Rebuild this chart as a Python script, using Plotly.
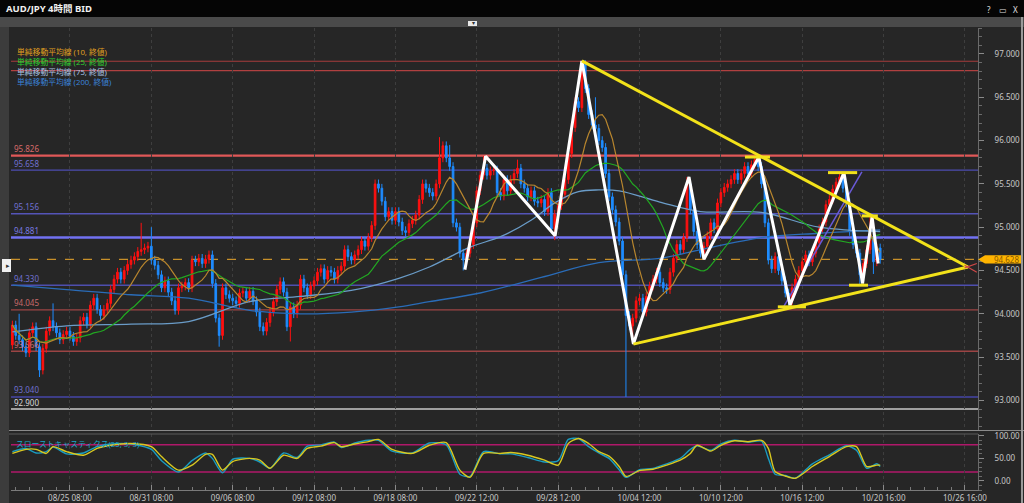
import plotly.graph_objects as go
import pandas as pd

# ---------------- data ----------------
first_idx = -17          # bar index of first candle (0 = 08/25 08:00, 4h bars)
first_open = 93.64
closes = [
    93.87, 93.75, 93.70, 93.62, 93.55, 93.78, 93.85, 93.62, 93.35, 93.60, 93.80, 93.92, 93.85, 93.78, 93.70, 93.76, 93.80,
    93.74, 93.68, 93.72, 93.92, 93.96, 93.88, 94.10, 94.18, 94.05, 93.98,
    94.05, 94.12, 94.28, 94.40, 94.48, 94.40, 94.50, 94.57, 94.62, 94.66,
    94.72, 94.74, 94.76, 94.78, 94.62, 94.56, 94.45, 94.30, 94.38, 94.25,
    94.15, 94.04, 94.30, 94.32, 94.36, 94.30, 94.62, 94.60, 94.64, 94.58,
    94.63, 94.68, 94.35, 93.95, 93.75, 94.30, 94.22, 94.18, 94.15, 94.12,
    94.24, 94.26, 94.18, 94.26, 94.15, 94.02, 93.85, 93.80, 93.90, 94.02,
    94.14, 94.28, 94.37, 94.25, 93.85, 94.08, 94.00, 94.10, 94.40, 94.30,
    94.22, 94.32, 94.38, 94.48, 94.52, 94.40, 94.50, 94.48, 94.40, 94.50,
    94.55, 94.74, 94.66, 94.62, 94.68, 94.74, 94.84, 94.78, 94.88, 95.02,
    95.50, 95.45, 95.30, 95.12, 95.18, 95.08, 95.18, 95.06, 94.96, 94.94,
    95.04, 95.08, 95.14, 95.32, 95.50, 95.45, 95.40, 95.36, 95.50, 95.80,
    95.94, 95.80, 95.70, 95.05, 95.00, 94.70, 94.62, 94.70, 94.80, 95.05,
    95.42, 95.60, 95.68, 95.60, 95.65, 95.66, 95.40, 95.36, 95.55, 95.42,
    95.55, 95.62, 95.68, 95.50, 95.45, 95.35, 95.42, 95.30, 95.28, 95.32,
    95.18, 95.40, 94.98, 95.15, 95.25, 95.38, 95.55, 95.85, 96.15, 96.45,
    96.38, 96.88, 96.60, 96.30, 96.18, 96.14, 96.00, 95.92, 95.62, 95.35,
    95.20, 95.06, 94.84, 94.45, 93.98, 93.86, 93.95, 94.15, 94.18, 94.02,
    94.20, 94.32, 94.40, 94.48, 94.36, 94.30, 94.28, 94.48, 94.64, 94.80,
    94.74, 94.88, 95.50, 95.20, 94.95, 94.80, 94.70, 94.78, 94.90, 95.05,
    94.98, 95.28, 95.40, 95.46, 95.50, 95.55, 95.62, 95.55, 95.62, 95.70,
    95.62, 95.72, 95.78, 95.70, 95.50, 95.05, 94.62, 94.52, 94.66, 94.50,
    94.38, 94.24, 94.15, 94.30, 94.40, 94.50, 94.60, 94.68, 94.60, 94.70,
    94.82, 94.98, 95.06, 95.26, 95.32, 95.44, 95.52, 95.58, 95.45, 95.28,
    94.95, 94.80, 94.70, 94.45, 94.58, 94.74, 94.88, 94.60, 94.76, 94.628,
]
wick = 0.05
high_marks = {-15: 94.00, -5: 94.12, 21: 95.05, 24: 95.00, 109: 96.04, 112: 95.95, 122: 95.82,
              132: 95.78, 151: 96.92, 155: 96.50, 182: 95.58, 202: 95.82, 227: 95.64, 236: 95.12}
low_marks = {-9: 93.27, 44: 93.62, 65: 93.68, 116: 94.50, 143: 94.85, 164: 93.04, 166: 93.65,
             187: 94.63, 212: 94.08, 233: 94.33, 237: 94.46}

ma75_idx = [-17, -1, 18, 35, 53, 68, 83, 97, 106, 118, 127, 136, 143, 150, 156, 162, 174, 186, 204, 221, 239]
ma75_val = [93.79, 93.86, 93.88, 93.91, 94.14, 94.20, 94.27, 94.41, 94.54, 94.77, 94.89, 95.08, 95.28,
            95.41, 95.43, 95.42, 95.29, 95.18, 95.17, 95.00, 94.95]
ma200_idx = [-17, -1, 18, 35, 53, 68, 83, 97, 106, 121, 139, 156, 174, 186, 204, 221, 239]
ma200_val = [94.33, 94.28, 94.22, 94.18, 94.04, 94.00, 94.02, 94.08, 94.14, 94.24, 94.42, 94.59,
             94.64, 94.74, 94.88, 94.93, 94.97]

st_idx = [-17, -13, -10, -7, -5, -1, 4, 8, 12, 18, 24, 27, 32, 36, 40, 42, 45, 48, 53, 56, 59, 63, 67, 70,
          74, 78, 80, 84, 88, 91, 95, 101, 106, 111, 115, 118, 122, 127, 130, 135, 140, 144, 147, 150,
          153, 156, 159, 162, 164, 168, 172, 176, 180, 183, 185, 189, 192, 196, 200, 204, 206, 208, 211,
          214, 219, 224, 229, 232, 235, 238, 239]
st_d = [61, 70, 70, 61, 76, 65, 57, 72, 79, 83, 76, 54, 24, 35, 59, 59, 24, 43, 50, 46, 28, 57, 50, 72,
        77, 85, 76, 82, 87, 92, 70, 61, 79, 85, 24, 8, 61, 61, 63, 57, 46, 35, 83, 94,
        83, 65, 55, 32, 10, 23, 26, 35, 46, 61, 79, 66, 79, 89, 87, 90, 72, 21, 11,
        6, 32, 54, 76, 76, 32, 35, 35]
st_k = [65, 72, 62, 65, 75, 60, 62, 76, 82, 82, 70, 45, 20, 45, 62, 50, 18, 48, 50, 42, 28, 62, 52, 77,
        80, 86, 74, 84, 90, 90, 66, 62, 84, 80, 15, 10, 65, 60, 60, 52, 42, 45, 92, 94,
        76, 62, 50, 25, 8, 25, 28, 38, 50, 70, 78, 68, 82, 90, 86, 88, 50, 15, 12,
        6, 38, 58, 78, 68, 28, 38, 32]

zig_idx = [116.5, 122.6, 143.1, 151.0, 166.2, 182.6, 187.0, 203.2, 212.4, 228.3, 233.8, 236.6, 238.4]
zig_px = [94.51, 95.82, 94.90, 96.92, 93.65, 95.58, 94.63, 95.81, 94.10, 95.63, 94.35, 95.12, 94.58]

tri_upper = [(151.0, 96.92), (264.9, 94.54)]
tri_lower = [(166.2, 93.65), (264.9, 94.54)]
yellow_marks = [(199.1, 206.5, 95.81), (223.6, 232.2, 95.63), (208.8, 217.1, 94.08),
                (229.8, 235.4, 94.33), (233.6, 238.3, 95.13)]
purple_line = [(210.5, 94.08), (233.6, 95.64)]

levels = [  # price, colour, width, label colour or None
    (96.916, "#a63c3c", 1.2, None), (96.807, "#b04040", 1.2, None),
    (95.826, "#e05858", 2.2, "#d86a6a"), (95.658, "#4c4cb0", 1.2, "#7070d0"),
    (95.156, "#5454b8", 1.5, "#7070d0"), (94.881, "#7272f2", 2.5, "#7a7ae0"),
    (94.330, "#4e4eae", 1.5, "#7070d0"), (94.045, "#9c4444", 1.2, "#c86a6a"),
    (93.566, "#9c4444", 1.5, "#c86a6a"), (93.040, "#4646a8", 1.5, "#7070d0"),
    (92.900, "#c8c8c8", 1.5, "#d8d8d8"),
]
current_price = 94.628
tick_idx = [0, 24, 48, 72, 96, 120, 144, 168, 192, 216, 240, 264]
tick_txt = ["08/25 08:00", "08/31 08:00", "09/06 08:00", "09/12 08:00", "09/18 08:00", "09/22 12:00",
            "09/28 12:00", "10/04 12:00", "10/10 12:00", "10/16 12:00", "10/20 16:00", "10/26 16:00"]

# ---------------- derived series ----------------
idx = list(range(first_idx, first_idx + len(closes)))
opens = [first_open] + closes[:-1]
highs = [max(high_marks.get(i, max(o, c) + wick), o, c) for i, o, c in zip(idx, opens, closes)]
lows = [min(low_marks.get(i, min(o, c) - wick), o, c) for i, o, c in zip(idx, opens, closes)]
s = pd.Series(closes)
sma10 = s.rolling(10, min_periods=1).mean()
sma25 = s.rolling(25, min_periods=1).mean()

# ---------------- layout geometry (pixels) ----------------
W, H = 1024, 503
L, R, T, B = 11, 978, 28, 490
def px(x):
    return (x - L) / (R - L)
def py(y):
    return (B - y) / (B - T)

FONT = "Noto Sans, Noto Sans CJK JP, sans-serif"
fig = go.Figure()

fig.add_trace(go.Candlestick(
    x=idx, open=opens, high=highs, low=lows, close=closes, xaxis="x2", yaxis="y",
    increasing=dict(line=dict(color="#ff1010", width=1), fillcolor="#ff1010"),
    decreasing=dict(line=dict(color="#1e8cff", width=1), fillcolor="#1e8cff"),
    whiskerwidth=0, hoverinfo="skip", showlegend=False))

ma_style = dict(mode="lines", xaxis="x2", yaxis="y", hoverinfo="skip", showlegend=False)
fig.add_trace(go.Scatter(x=ma200_idx, y=ma200_val, line=dict(color="#2a6cb8", width=1.3, shape="spline"), **ma_style))
fig.add_trace(go.Scatter(x=ma75_idx, y=ma75_val, line=dict(color="#6a9cc8", width=1.3, shape="spline"), **ma_style))
fig.add_trace(go.Scatter(x=idx, y=sma25, line=dict(color="#22a822", width=1.2), **ma_style))
fig.add_trace(go.Scatter(x=idx, y=sma10, line=dict(color="#b8862e", width=1.2), **ma_style))

# drawings
fig.add_trace(go.Scatter(x=[p[0] for p in purple_line], y=[p[1] for p in purple_line],
                         line=dict(color="#6a5ad8", width=1.5), **ma_style))
fig.add_trace(go.Scatter(x=zig_idx, y=zig_px, line=dict(color="#ffffff", width=3), **ma_style))
ty_x, ty_y = [], []
for seg in (tri_upper, tri_lower):
    ty_x += [seg[0][0], seg[1][0], None]
    ty_y += [seg[0][1], seg[1][1], None]
for a, b, p in yellow_marks:
    ty_x += [a, b, None]
    ty_y += [p, p, None]
fig.add_trace(go.Scatter(x=ty_x, y=ty_y, line=dict(color="#f2e21a", width=3), **ma_style))
apex = tri_upper[1]
fig.add_trace(go.Scatter(x=[apex[0] - 1, apex[0] + 2.6, None, apex[0] - 1, apex[0] + 2.6],
                         y=[apex[1] + 0.02, apex[1] - 0.06, None, apex[1] - 0.01, apex[1] + 0.04],
                         line=dict(color="#d04848", width=1.2), **ma_style))

# stochastics
st_style = dict(mode="lines", xaxis="x", yaxis="y2", hoverinfo="skip", showlegend=False)
fig.add_trace(go.Scatter(x=st_idx, y=st_k, line=dict(color="#1a9cc0", width=1.4, shape="spline", smoothing=0.7), **st_style))
fig.add_trace(go.Scatter(x=st_idx, y=st_d, line=dict(color="#d8c820", width=1.4, shape="spline", smoothing=0.7), **st_style))

shapes = []
for p, col, w, _ in levels:
    shapes.append(dict(type="line", xref="paper", yref="y", x0=0, x1=1, y0=p, y1=p,
                       line=dict(color=col, width=w), layer="below"))
shapes.append(dict(type="line", xref="paper", yref="y", x0=0, x1=1, y0=current_price, y1=current_price,
                   line=dict(color="#c8902a", width=1.2, dash="dash"), layer="below"))
for v in (80, 20):
    shapes.append(dict(type="line", xref="paper", yref="y2", x0=0, x1=1, y0=v, y1=v,
                       line=dict(color="#b0186a", width=1.5), layer="below"))
# chrome: title bar, toolbar, left strip, separators, border
shapes += [
    dict(type="rect", xref="paper", yref="paper", x0=px(0), x1=px(W), y0=py(17), y1=py(0),
         fillcolor="#050505", line=dict(width=0)),
    dict(type="rect", xref="paper", yref="paper", x0=px(0), x1=px(W), y0=py(27), y1=py(17),
         fillcolor="#4a4a4a", line=dict(width=0)),
    dict(type="rect", xref="paper", yref="paper", x0=px(468), x1=px(477), y0=py(26), y1=py(21),
         fillcolor="#e8e8e8", line=dict(width=0)),
    dict(type="rect", xref="paper", yref="paper", x0=px(0), x1=px(9), y0=py(503), y1=py(27),
         fillcolor="#3c3c3c", line=dict(width=0)),
    dict(type="rect", xref="paper", yref="paper", x0=px(2), x1=px(11), y0=py(272), y1=py(259),
         fillcolor="#f0f0f0", line=dict(width=0)),
    dict(type="line", xref="paper", yref="paper", x0=px(9), x1=px(W), y0=py(430.5), y1=py(430.5),
         line=dict(color="#8a8a8a", width=1.2)),
    dict(type="line", xref="paper", yref="paper", x0=px(9), x1=1, y0=py(434), y1=py(434),
         line=dict(color="#5a5a5a", width=1)),
    dict(type="line", xref="paper", yref="paper", x0=px(1022), x1=px(1022), y0=py(503), y1=py(17),
         line=dict(color="#9a9a9a", width=2)),
    dict(type="path", xref="paper", yref="y",
         path=f"M 1 {current_price} L {px(985)} {current_price + 0.048} L {px(1021)} {current_price + 0.048} "
              f"L {px(1021)} {current_price - 0.048} L {px(985)} {current_price - 0.048} Z",
         fillcolor="#ffb400", line=dict(width=0)),
]

ann = []
def txt(x, y, t, color, size=8, xref="paper", yref="paper", **kw):
    ann.append(dict(x=x, y=y, xref=xref, yref=yref, text=t, showarrow=False, xanchor="left",
                    yanchor="middle", font=dict(family=FONT, size=size, color=color), **kw))

txt(px(4), py(8.5), "<b>AUD/JPY 4時間 BID</b>", "#f0f0f0", 9.5)
txt(px(985), py(9), "?", "#e0e0e0", 8)
txt(px(997), py(9), "▭", "#e0e0e0", 8)
txt(px(1011), py(9), "X", "#e0e0e0", 8)
txt(px(469.5), py(23.5), "▾", "#303030", 6)
txt(px(3.5), py(265.5), "▸", "#303030", 7)
legend = [("単純移動平均線 (10, 終値)", "#e0a020", 51.7), ("単純移動平均線 (25, 終値)", "#30d030", 62),
          ("単純移動平均線 (75, 終値)", "#a8c4e4", 72), ("単純移動平均線 (200, 終値)", "#3a82d8", 82.3)]
for t, c, yy in legend:
    txt(px(15), py(yy), t, c, 7.8)
for p, col, w, lc in levels:
    if lc:
        txt(px(12), p, f"{p:.3f}", lc, 8, yref="y", yshift=7)
txt(px(14), py(444), "スローストキャスティクス(25, 3, 3)", "#1aa6cc", 7.8)
txt(px(992), current_price, f"{current_price:.3f}", "#8a5a00", 8, yref="y")

axis_font = dict(family=FONT, size=8, color="#c8c8c8")
fig.update_layout(
    width=W, height=H, margin=dict(l=L, r=W - R, t=T, b=H - B, autoexpand=False),
    paper_bgcolor="#262626", plot_bgcolor="#262626",
    shapes=shapes, annotations=ann, showlegend=False, hovermode=False,
    xaxis=dict(domain=[0, 1], anchor="y2", range=[-17.4, 267.85], tickmode="array", tickvals=tick_idx,
               ticktext=tick_txt, tickfont=axis_font, ticks="inside", ticklen=5, tickcolor="#8a8a8a",
               showline=True, linecolor="#7a7a7a", showgrid=True, gridcolor="#3e3e3e", griddash="dot",
               zeroline=False, automargin=False,
               minor=dict(dtick=4, tick0=0, ticks="inside", ticklen=3, tickcolor="#7a7a7a", showgrid=False),
               rangeslider=dict(visible=False)),
    xaxis2=dict(domain=[0, 1], anchor="y", matches="x", tickmode="array", tickvals=tick_idx,
                showticklabels=False, ticks="", showgrid=True, gridcolor="#3e3e3e", griddash="dot",
                zeroline=False, automargin=False, rangeslider=dict(visible=False)),
    yaxis=dict(domain=[py(430), 1], anchor="x2", side="right", range=[92.658, 97.30],
               tickmode="array", tickvals=[93.0, 93.5, 94.0, 94.5, 95.0, 95.5, 96.0, 96.5, 97.0],
               tickformat=".3f", tickfont=axis_font, ticks="outside", ticklen=5, tickcolor="#8a8a8a",
               ticklabelstandoff=9, showline=True, linecolor="#6a6a6a", showgrid=False, zeroline=False,
               automargin=False,
               minor=dict(dtick=0.1, tick0=0, ticks="outside", ticklen=3, tickcolor="#6a6a6a", showgrid=False)),
    yaxis2=dict(domain=[0, py(434)], anchor="x", side="right", range=[-20, 104], tickmode="array",
                tickvals=[0, 50, 100], ticktext=["0.00", "50.00", "100.00"], tickfont=axis_font,
                ticks="outside", ticklen=5, tickcolor="#8a8a8a", ticklabelstandoff=9, showline=True,
                linecolor="#6a6a6a", showgrid=False, zeroline=False, automargin=False,
                minor=dict(dtick=10, tick0=0, ticks="outside", ticklen=3, tickcolor="#6a6a6a", showgrid=False)),
)
fig.write_html("out.html", config={"displayModeBar": False},
               post_script="document.body.style.margin='0';document.body.style.padding='0';"
                           "document.body.style.overflow='hidden';document.body.style.background='#262626';")
